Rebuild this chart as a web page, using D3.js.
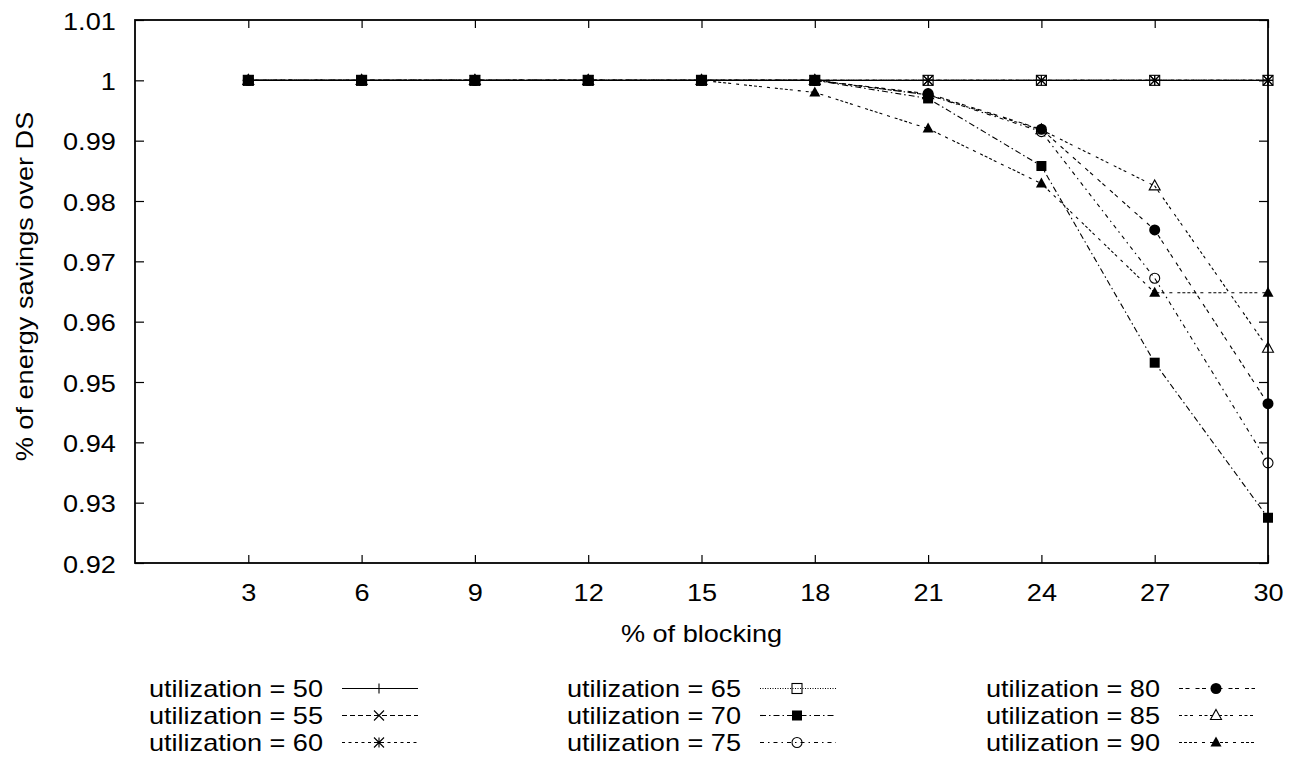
<!DOCTYPE html>
<html>
<head>
<meta charset="utf-8">
<script src="https://cdn.jsdelivr.net/npm/d3@7"></script>
<style>
  html, body { margin: 0; padding: 0; background: #fff; }
  svg { display: block; }
  text { font-family: "Liberation Sans", Arial, Helvetica, sans-serif; fill: #000; }
</style>
</head>
<body>
<svg id="chart" width="1293" height="757"></svg>
<script>
// Blocking percentages on the x axis
const blocking = [3, 6, 9, 12, 15, 18, 21, 24, 27, 30];

// Energy savings relative to DS, one array per utilization level
const util50 = [1, 1, 1, 1, 1, 1, 1, 1, 1, 1];
const util55 = [1, 1, 1, 1, 1, 1, 1, 1, 1, 1];
const util60 = [1, 1, 1, 1, 1, 1, 1, 1, 1, 1];
const util65 = [1, 1, 1, 1, 1, 1, 1, 1, 1, 1];
const util70 = [1, 1, 1, 1, 1, 1, 0.997, 0.9858, 0.9532, 0.9275];
const util75 = [1, 1, 1, 1, 1, 1, 0.9976, 0.9915, 0.9672, 0.9366];
const util80 = [1, 1, 1, 1, 1, 1, 0.9978, 0.9919, 0.9752, 0.9464];
const util85 = [1, 1, 1, 1, 1, 1, 0.9976, 0.9918, 0.9825, 0.9556];
const util90 = [1, 1, 1, 1, 1, 0.998, 0.992, 0.9829, 0.9648, 0.9648];

const seriesLabels = [
  "utilization = 50", "utilization = 55", "utilization = 60",
  "utilization = 65", "utilization = 70", "utilization = 75",
  "utilization = 80", "utilization = 85", "utilization = 90"
];
const seriesValues = [util50, util55, util60, util65, util70, util75, util80, util85, util90];

// Axis tick values
const xTicks = [3, 6, 9, 12, 15, 18, 21, 24, 27, 30];
const yTicks = [1.01, 1, 0.99, 0.98, 0.97, 0.96, 0.95, 0.94, 0.93, 0.92];

const xTitle = "% of blocking";
const yTitle = "% of energy savings over DS";

// ---- presentation ----
const FONT = 24;
const STRETCH = 1.13;
const plotLeft = 135, plotRight = 1268, plotTop = 20, plotBottom = 563;

const svg = d3.select("#chart");
const x = d3.scaleLinear().domain([0, 30]).range([plotLeft, plotRight]);
const y = d3.scaleLinear().domain([0.92, 1.01]).range([plotBottom, plotTop]);

// line styles and point types per series
const dashes = [null, "5,3", "3,3.5", "1,1.5", "6,3,1.5,3", "4,4,1.5,4",
                "4,2.5,4,6", "3,2.5,3,2.5,3,6", "3,2,3,2,3,2,3,5,3,5"];
const markers = ["plus", "cross", "star", "openSquare", "square", "openCircle",
                 "circle", "openTriangle", "triangle"];

function drawMarker(g, type, cx, cy) {
  const s = 5;
  const outline = sel => sel.attr("stroke", "#000").attr("stroke-width", 1.1);
  const tri = `M${cx},${cy - s - 1}L${cx + s + 0.5},${cy + s - 1}L${cx - s - 0.5},${cy + s - 1}Z`;
  switch (type) {
    case "plus":
      outline(g.append("path").attr("d", `M${cx - s},${cy}H${cx + s}M${cx},${cy - s}V${cy + s}`)).attr("fill", "none");
      break;
    case "cross":
      outline(g.append("path").attr("d", `M${cx - s},${cy - s}L${cx + s},${cy + s}M${cx - s},${cy + s}L${cx + s},${cy - s}`)).attr("fill", "none");
      break;
    case "star":
      outline(g.append("path").attr("d",
        `M${cx - s},${cy}H${cx + s}M${cx},${cy - s}V${cy + s}M${cx - s},${cy - s}L${cx + s},${cy + s}M${cx - s},${cy + s}L${cx + s},${cy - s}`)).attr("fill", "none");
      break;
    case "openSquare":
      outline(g.append("rect").attr("x", cx - s).attr("y", cy - s).attr("width", 2 * s).attr("height", 2 * s)).attr("fill", "none");
      break;
    case "square":
      g.append("rect").attr("x", cx - s).attr("y", cy - s).attr("width", 2 * s).attr("height", 2 * s).attr("fill", "#000");
      break;
    case "openCircle":
      outline(g.append("circle").attr("cx", cx).attr("cy", cy).attr("r", s)).attr("fill", "none");
      break;
    case "circle":
      g.append("circle").attr("cx", cx).attr("cy", cy).attr("r", s + 0.5).attr("fill", "#000");
      break;
    case "openTriangle":
      outline(g.append("path").attr("d", tri)).attr("fill", "none");
      break;
    case "triangle":
      g.append("path").attr("d", tri).attr("fill", "#000");
      break;
  }
}

// ---- axes (ticks pointing inward, mirrored) ----
const fmt = d => String(+d.toFixed(2));

const gLeft = svg.append("g").attr("transform", `translate(${plotLeft},0)`)
  .call(d3.axisLeft(y).tickValues(yTicks).tickSize(-9).tickPadding(17).tickFormat(fmt));
gLeft.selectAll("text").attr("font-size", FONT).attr("dy", "0.38em")
  .attr("transform", `scale(${STRETCH},1)`);

const gRight = svg.append("g").attr("transform", `translate(${plotRight},0)`)
  .call(d3.axisRight(y).tickValues(yTicks).tickSize(-9).tickFormat(""));

const gBottom = svg.append("g").attr("transform", `translate(0,${plotBottom})`)
  .call(d3.axisBottom(x).tickValues(xTicks).tickSize(-8).tickPadding(38).tickFormat(d => d));
gBottom.selectAll("text").attr("font-size", FONT).attr("dy", "0")
  .attr("transform", `scale(${STRETCH},1)`);

const gTop = svg.append("g").attr("transform", `translate(0,${plotTop})`)
  .call(d3.axisTop(x).tickValues(xTicks).tickSize(-8).tickFormat(""));

[gLeft, gRight, gBottom, gTop].forEach(g => {
  g.select(".domain").remove();
  g.selectAll(".tick line").attr("stroke", "#000").attr("stroke-width", 1.2);
  g.attr("font-family", null);
  g.selectAll("text").attr("fill", "#000");
});

// plot border
svg.append("rect").attr("x", plotLeft).attr("y", plotTop)
  .attr("width", plotRight - plotLeft).attr("height", plotBottom - plotTop)
  .attr("fill", "none").attr("stroke", "#000").attr("stroke-width", 1.8);

// axis titles
svg.append("text").attr("transform", `translate(${(plotLeft + plotRight) / 2},642) scale(${STRETCH},1)`)
  .attr("text-anchor", "middle").attr("font-size", FONT).text(xTitle);
svg.append("text").attr("transform", `translate(33,${(plotTop + plotBottom) / 2 - 5}) rotate(-90) scale(${STRETCH},1)`)
  .attr("text-anchor", "middle").attr("font-size", FONT).text(yTitle);

// ---- series ----
const line = d3.line().x((d, i) => x(blocking[i])).y(d => y(d));
const plot = svg.append("g");
seriesValues.forEach((vals, k) => {
  const g = plot.append("g");
  g.append("path").datum(vals).attr("d", line)
    .attr("fill", "none").attr("stroke", "#000").attr("stroke-width", 1.1)
    .attr("stroke-dasharray", dashes[k]);
  vals.forEach((v, i) => drawMarker(g, markers[k], x(blocking[i]), y(v)));
});

// ---- legend: three columns of three entries ----
const colX = [150, 568, 987];
const rowBase = [697, 724, 751];
seriesLabels.forEach((label, k) => {
  const cx = colX[Math.floor(k / 3)], base = rowBase[k % 3];
  const g = svg.append("g");
  g.append("text").attr("transform", `translate(${cx + 173},${base}) scale(${STRETCH},1)`)
    .attr("text-anchor", "end").attr("font-size", FONT).text(label);
  const ly = base - 8.5;
  g.append("line").attr("x1", cx + 192).attr("x2", cx + 268).attr("y1", ly).attr("y2", ly)
    .attr("stroke", "#000").attr("stroke-width", 1.1).attr("stroke-dasharray", dashes[k]);
  drawMarker(g, markers[k], cx + 229, ly);
});
</script>
</body>
</html>
